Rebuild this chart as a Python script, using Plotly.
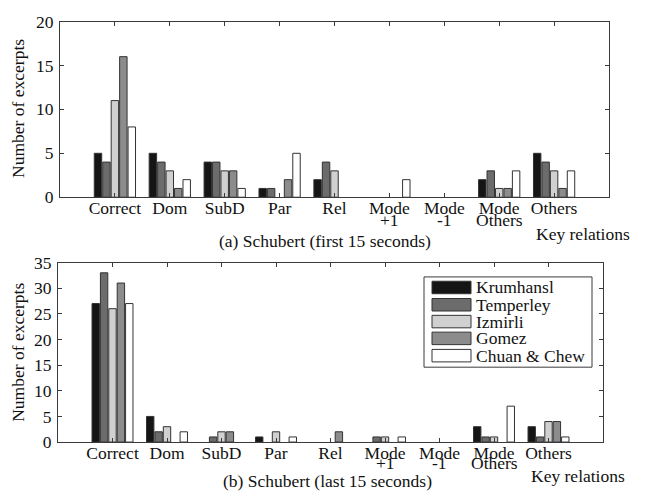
import plotly.graph_objects as go

categories = ["Correct", "Dom", "SubD", "Par", "Rel", "Mode", "Mode", "Mode", "Others"]
category_second_line = ["", "", "", "", "", "+1", "-1", "Others", ""]
series_names = ["Krumhansl", "Temperley", "Izmirli", "Gomez", "Chuan &amp; Chew"]
series_colors = ["#151515", "#6c6c6c", "#d0d0d0", "#8c8c8c", "#ffffff"]

# (a) first 15 seconds
first_krumhansl = [5, 5, 4, 1, 2, 0, 0, 2, 5]
first_temperley = [4, 4, 4, 1, 4, 0, 0, 3, 4]
first_izmirli = [11, 3, 3, 0, 3, 0, 0, 1, 3]
first_gomez = [16, 1, 3, 2, 0, 0, 0, 1, 1]
first_chuan = [8, 2, 1, 5, 0, 2, 0, 3, 3]

# (b) last 15 seconds
last_krumhansl = [27, 5, 0, 1, 0, 0, 0, 3, 3]
last_temperley = [33, 2, 1, 0, 0, 1, 0, 1, 1]
last_izmirli = [26, 3, 2, 2, 0, 1, 0, 1, 4]
last_gomez = [31, 0, 2, 0, 2, 0, 0, 0, 4]
last_chuan = [27, 2, 0, 1, 0, 1, 0, 7, 1]

first = [first_krumhansl, first_temperley, first_izmirli, first_gomez, first_chuan]
last = [last_krumhansl, last_temperley, last_izmirli, last_gomez, last_chuan]

W, H = 645, 502
FONT = "Liberation Serif, Times New Roman, serif"
FS = 17.5
LINE = "#3a3a3a"


def nz(vals):
    # zero counts are drawn as no bar at all
    return [v if v != 0 else None for v in vals]


fig = go.Figure()
xs = list(range(len(categories)))
for i, name in enumerate(series_names):
    fig.add_trace(go.Bar(x=xs, y=nz(first[i]), name=name,
                         marker=dict(color=series_colors[i], line=dict(color="#333333", width=1)),
                         xaxis="x", yaxis="y", showlegend=False, offsetgroup=str(i)))
    fig.add_trace(go.Bar(x=xs, y=nz(last[i]), name=name,
                         marker=dict(color=series_colors[i], line=dict(color="#333333", width=1)),
                         xaxis="x2", yaxis="y2", showlegend=False, offsetgroup=str(i)))


def px(x):
    return x / W


def py(y):
    return 1 - y / H


axis_common = dict(showline=True, linecolor=LINE, linewidth=1, mirror="ticks", ticks="inside", ticklen=4,
                   tickcolor=LINE, showgrid=False, zeroline=False,
                   tickfont=dict(family=FONT, size=FS, color="#111"))

fig.update_layout(
    width=W, height=H, margin=dict(l=0, r=0, t=0, b=0),
    paper_bgcolor="white", plot_bgcolor="white",
    barmode="group", bargap=0.23, bargroupgap=0.12,
    font=dict(family=FONT, size=FS, color="#111"),
    xaxis=dict(domain=[px(60), px(609)], range=[-1, 9], tickvals=xs, ticktext=categories, anchor="y",
               ticklabelstandoff=-5, **axis_common),
    yaxis=dict(domain=[py(195), py(12)], range=[0, 20], tickvals=[0, 5, 10, 15, 20], anchor="x",
               ticklabelstandoff=2, **axis_common),
    xaxis2=dict(domain=[px(58), px(603)], range=[-1, 9], tickvals=xs, ticktext=categories, anchor="y2",
                ticklabelstandoff=-5, **axis_common),
    yaxis2=dict(domain=[py(450), py(263)], range=[0, 35], tickvals=[0, 5, 10, 15, 20, 25, 30, 35], anchor="x2",
                ticklabelstandoff=2, **axis_common),
)

annotations = [
    dict(x=px(18), y=py(103), text="Number of excerpts", textangle=-90),
    dict(x=px(18), y=py(357), text="Number of excerpts", textangle=-90),
    dict(x=px(325), y=py(241), text="(a) Schubert (first 15 seconds)"),
    dict(x=px(327), y=py(491), text="(b) Schubert (last 15 seconds)"),
    dict(x=px(582.5), y=py(233), text="Key relations"),
    dict(x=px(577.5), y=py(485), text="Key relations"),
]
for j, s in enumerate(category_second_line):
    if s:
        annotations.append(dict(x=j, xref="x", y=py(219), text=s))
        annotations.append(dict(x=j, xref="x2", y=py(472), text=s))

shapes = [dict(type="rect", xref="paper", yref="paper", x0=px(424), x1=px(592), y0=py(372), y1=py(278),
               line=dict(color=LINE, width=1), fillcolor="white", layer="above")]
row_y = [289, 307, 324.5, 342, 360]
for i, name in enumerate(series_names):
    shapes.append(dict(type="rect", xref="paper", yref="paper", x0=px(432), x1=px(471),
                       y0=py(row_y[i] + 6.5), y1=py(row_y[i] - 6.5),
                       line=dict(color="#333333", width=1), fillcolor=series_colors[i], layer="above"))
    annotations.append(dict(x=px(474), y=py(row_y[i]), text=name, xanchor="left"))

for a in annotations:
    a.setdefault("xanchor", "center")
    a.setdefault("xref", "paper")
    a.update(yref="paper", yanchor="middle", showarrow=False, font=dict(family=FONT, size=FS, color="#111"))

fig.update_layout(annotations=annotations, shapes=shapes)
fig.write_html("out.html", config={"displayModeBar": False},
               post_script="document.body.style.margin='0';document.body.style.overflow='hidden';")
